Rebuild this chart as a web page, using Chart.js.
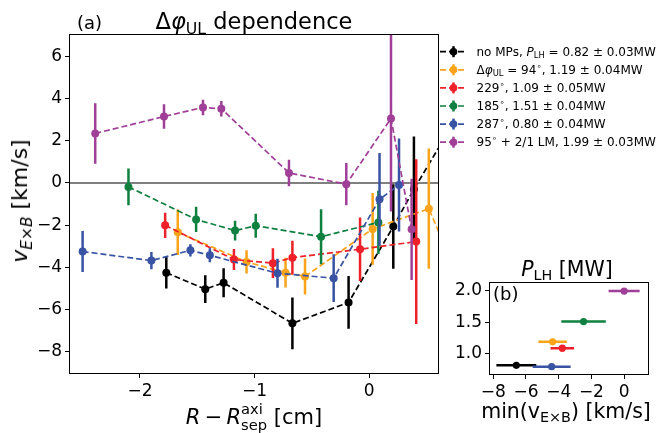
<!DOCTYPE html>
<html>
<head>
<meta charset="utf-8">
<script src="https://cdn.jsdelivr.net/npm/chart.js@4.4.1/dist/chart.umd.min.js"></script>
<style>
body { margin: 0; background: #fff; font-family: 'DejaVu Sans', sans-serif; color: #000; }
#wrap { position: relative; width: 657px; height: 433px; overflow: hidden; }
canvas { position: absolute; }
.t { position: absolute; white-space: nowrap; line-height: 1; }
.sb { font-size: 70%; position: relative; top: 0.3em; }
.sp { font-size: 70%; position: relative; top: -0.6em; }
.ss { position: relative; display: inline-block; font-size: 70%; }
.ss .lo { position: relative; top: 0.4em; }
.ss .hi { position: absolute; left: 0; top: -0.65em; }
</style>
</head>
<body>
<div id="wrap">
  <canvas id="main" width="657" height="433" style="left:0;top:0"></canvas>
  <canvas id="inset" width="217" height="183" style="left:440px;top:250px"></canvas>

  <div class="t" style="left:77px;top:14px;font-size:18px">(a)</div>
  <div class="t" style="left:254px;top:10px;font-size:22.5px;transform:translateX(-50%)">&Delta;<i>&phi;</i><span class="sb">UL</span> dependence</div>
  <div class="t" style="left:254px;top:407px;font-size:21px;transform:translateX(-50%)"><i>R</i>&thinsp;&minus;&thinsp;<i>R</i><span class="ss"><span class="lo">sep</span><span class="hi">axi</span></span> [cm]</div>
  <div class="t" style="left:20px;top:201px;font-size:22px;transform:translate(-50%,-50%) rotate(-90deg)"><i>v</i><span class="sb"><i>E</i>&times;<i>B</i></span> [km/s]</div>

  <div class="t" style="left:567px;top:259px;font-size:20.5px;transform:translateX(-50%)"><i>P</i><span class="sb">LH</span> [MW]</div>
  <div class="t" style="left:566px;top:401px;font-size:20.5px;transform:translateX(-50%)">min(v<span class="sb">E&times;B</span>) [km/s]</div>
  <div class="t" style="left:493px;top:285px;font-size:18px">(b)</div>

  <div id="legend"></div>
</div>

<script>
'use strict';

// (a) v_ExB radial profiles, one set per configuration (last points of black / orange lie past the axis edge)
let rNoMP = [-1.77, -1.43, -1.27, -0.67, -0.18, 0.21, 0.39, 0.72];
let vNoMP = [-4.25, -5.03, -4.73, -6.65, -5.66, -2.07, -0.30, 2.7];
let eNoMP = [0.75, 0.66, 0.69, 1.22, 1.25, 2.0, 2.5, 2.5];

let r94 = [-1.67, -1.07, -0.73, -0.56, 0.03, 0.52, 0.70];
let v94 = [-2.34, -3.74, -4.25, -4.43, -2.18, -1.22, -3.5];
let e94 = [1.08, 0.55, 0.70, 0.85, 1.7, 2.85, 2.0];

let r229 = [-1.78, -1.18, -0.84, -0.67, -0.08, 0.41];
let v229 = [-2.01, -3.63, -3.80, -3.54, -3.14, -2.78];
let e229 = [0.60, 0.50, 0.70, 0.80, 1.50, 3.90];

let r185 = [-2.10, -1.51, -1.17, -0.99, -0.42, 0.08];
let v185 = [-0.19, -1.73, -2.26, -2.03, -2.55, -1.87];
let e185 = [0.87, 0.60, 0.47, 0.57, 1.30, 1.5];

let r287 = [-2.50, -1.90, -1.56, -1.39, -0.80, -0.31, 0.09, 0.26];
let v287 = [-3.25, -3.68, -3.19, -3.43, -4.28, -4.51, -0.78, -0.10];
let e287 = [0.97, 0.41, 0.29, 0.33, 0.69, 1.13, 2.2, 2.2];

let rLM = [-2.39, -1.79, -1.45, -1.29, -0.70, -0.20, 0.19, 0.37];
let vLM = [2.34, 3.14, 3.57, 3.51, 0.47, -0.06, 3.05, -2.20];
let eLM = [1.43, 0.58, 0.37, 0.37, 0.63, 1.00, 4.40, 2.40];

// (b) profile minimum vs. L-H power threshold
let minV = [-6.59, -4.37, -3.78, -2.48, -4.43, 0.0];
let minVErr = [1.22, 0.87, 0.72, 1.36, 1.16, 0.95];
let pLH = [0.82, 1.19, 1.09, 1.51, 0.80, 1.99];
let pLHErr = [0.03, 0.04, 0.05, 0.04, 0.04, 0.03];

let labelHeads = [
  'no MPs, <i>P</i><span class="sb">LH</span> = ',
  '&Delta;<i>&phi;</i><span class="sb">UL</span> = 94<span class="sp">&#8728;</span>, ',
  '229<span class="sp">&#8728;</span>, ',
  '185<span class="sp">&#8728;</span>, ',
  '287<span class="sp">&#8728;</span>, ',
  '95<span class="sp">&#8728;</span> + 2/1 LM, '
];
let colors = ['#000000', '#fba31a', '#ee2029', '#0f8040', '#3853a4', '#a03f97'];

let xTicksA = [-2, -1, 0];
let yTicksA = [-8, -6, -4, -2, 0, 2, 4, 6];
let xTicksB = [-8, -6, -4, -2, 0];
let yTicksB = [1.0, 1.5, 2.0];

let rs = [rNoMP, r94, r229, r185, r287, rLM];
let vs = [vNoMP, v94, v229, v185, v287, vLM];
let es = [eNoMP, e94, e229, e185, e287, eLM];

let tickFont = {family: 'DejaVu Sans', size: 17};
let minus = v => v < 0 ? '\u2212' + Math.abs(v) : String(v);

// error bars under each dataset, clipped to the axes
let errorBars = {
  id: 'errorBars',
  beforeDatasetDraw(chart, args) {
    let ds = chart.data.datasets[args.index];
    let ctx = chart.ctx, a = chart.chartArea;
    let xs = chart.scales.x, ys = chart.scales.y;
    ctx.save();
    ctx.beginPath();
    ctx.rect(a.left, a.top, a.right - a.left, a.bottom - a.top);
    ctx.clip();
    ctx.strokeStyle = ds.borderColor;
    ctx.lineWidth = ds.errWidth;
    ctx.beginPath();
    ds.data.forEach((p, i) => {
      let px = xs.getPixelForValue(p.x), py = ys.getPixelForValue(p.y);
      if (ds.yErr) {
        ctx.moveTo(px, ys.getPixelForValue(p.y - ds.yErr[i]));
        ctx.lineTo(px, ys.getPixelForValue(p.y + ds.yErr[i]));
      }
      if (ds.xErr) {
        ctx.moveTo(xs.getPixelForValue(p.x - ds.xErr[i]), py);
        ctx.lineTo(xs.getPixelForValue(p.x + ds.xErr[i]), py);
      }
    });
    ctx.stroke();
    ctx.restore();
  }
};

let frame = {
  id: 'frame',
  afterDatasetsDraw(chart) {
    let ctx = chart.ctx, a = chart.chartArea;
    ctx.save();
    ctx.strokeStyle = '#000';
    ctx.lineWidth = 1;
    ctx.strokeRect(Math.round(a.left) - 0.5, Math.round(a.top) - 0.5, Math.round(a.right - a.left) + 1, Math.round(a.bottom - a.top) + 1);
    ctx.restore();
  }
};

let zeroLine = {
  id: 'zeroLine',
  beforeDatasetsDraw(chart) {
    let ctx = chart.ctx, a = chart.chartArea;
    let y = chart.scales.y.getPixelForValue(0);
    ctx.save();
    ctx.strokeStyle = '#808080';
    ctx.lineWidth = 2;
    ctx.beginPath();
    ctx.moveTo(a.left, y);
    ctx.lineTo(a.right, y);
    ctx.stroke();
    ctx.restore();
  }
};

let legendY = i => 51.7 + 18.1 * i;

let legendGlyphs = {
  id: 'legendGlyphs',
  afterDraw(chart) {
    let ctx = chart.ctx;
    for (let i = 0; i < colors.length; i++) {
      let y = legendY(i);
      ctx.save();
      ctx.strokeStyle = colors[i];
      ctx.fillStyle = colors[i];
      ctx.lineWidth = 1.7;
      ctx.setLineDash([6, 3]);
      ctx.beginPath();
      ctx.moveTo(440, y);
      ctx.lineTo(467, y);
      ctx.stroke();
      ctx.setLineDash([]);
      ctx.lineWidth = 2.5;
      ctx.beginPath();
      ctx.moveTo(453.5, y - 5.5);
      ctx.lineTo(453.5, y + 5.5);
      ctx.stroke();
      ctx.beginPath();
      ctx.arc(453.5, y, 3.8, 0, Math.PI * 2);
      ctx.fill();
      ctx.restore();
    }
  }
};

function axisOpts(min, max, ticks, size, fmt, isX) {
  return {
    type: 'linear', min: min, max: max,
    afterBuildTicks: s => { s.ticks = ticks.map(v => ({value: v})); },
    afterFit: s => { if (isX) s.height = size; else s.width = size; },
    grid: {drawOnChartArea: false, drawTicks: true, tickLength: 5, color: '#000'},
    border: {display: false},
    ticks: {font: tickFont, color: '#000', padding: 3, callback: fmt, maxRotation: 0, autoSkip: false}
  };
}

let mainSets = rs.map((r, i) => ({
  label: 'series' + i,
  data: r.map((x, j) => ({x: x, y: vs[i][j]})),
  yErr: es[i],
  errWidth: 2.5,
  borderColor: colors[i],
  backgroundColor: colors[i],
  pointBackgroundColor: colors[i],
  borderWidth: 1.7,
  borderDash: [6, 3],
  pointRadius: 4,
  pointBorderWidth: 0,
  showLine: true,
  tension: 0,
  clip: 0,
  order: colors.length - 1 - i
}));

new Chart(document.getElementById('main').getContext('2d'), {
  type: 'line',
  data: {datasets: mainSets},
  options: {
    responsive: false,
    animation: false,
    events: [],
    layout: {padding: {left: 0, top: 35, right: 219, bottom: 0}},
    plugins: {legend: {display: false}, tooltip: {enabled: false}},
    scales: {
      x: axisOpts(-2.61, 0.6, xTicksA, 60, minus, true),
      y: axisOpts(-9, 7, yTicksA, 70, minus, false)
    }
  },
  plugins: [zeroLine, errorBars, frame, legendGlyphs]
});

let insetSets = minV.map((m, i) => ({
  label: 'p' + i,
  data: [{x: m, y: pLH[i]}],
  xErr: [minVErr[i]],
  yErr: [pLHErr[i]],
  errWidth: 2.5,
  borderColor: colors[i],
  backgroundColor: colors[i],
  pointBackgroundColor: colors[i],
  pointRadius: 3.6,
  pointBorderWidth: 0,
  showLine: false,
  clip: 0,
  order: colors.length - 1 - i
}));

new Chart(document.getElementById('inset').getContext('2d'), {
  type: 'line',
  data: {datasets: insetSets},
  options: {
    responsive: false,
    animation: false,
    events: [],
    layout: {padding: {left: 0, top: 33, right: 9, bottom: 0}},
    plugins: {legend: {display: false}, tooltip: {enabled: false}},
    scales: {
      x: axisOpts(-8.2, 1.46, xTicksB, 59, minus, true),
      y: axisOpts(0.684, 2.117, yTicksB, 50, v => v.toFixed(1), false)
    }
  },
  plugins: [errorBars, frame]
});

// legend text, values filled from pLH / pLHErr
let legend = document.getElementById('legend');
for (let i = 0; i < labelHeads.length; i++) {
  let row = document.createElement('div');
  row.className = 't';
  row.style.left = '476.5px';
  row.style.top = (legendY(i) - 6) + 'px';
  row.style.fontSize = '12px';
  row.innerHTML = labelHeads[i] + pLH[i].toFixed(2) + ' &plusmn; ' + pLHErr[i].toFixed(2) + 'MW';
  legend.appendChild(row);
}
</script>
</body>
</html>
